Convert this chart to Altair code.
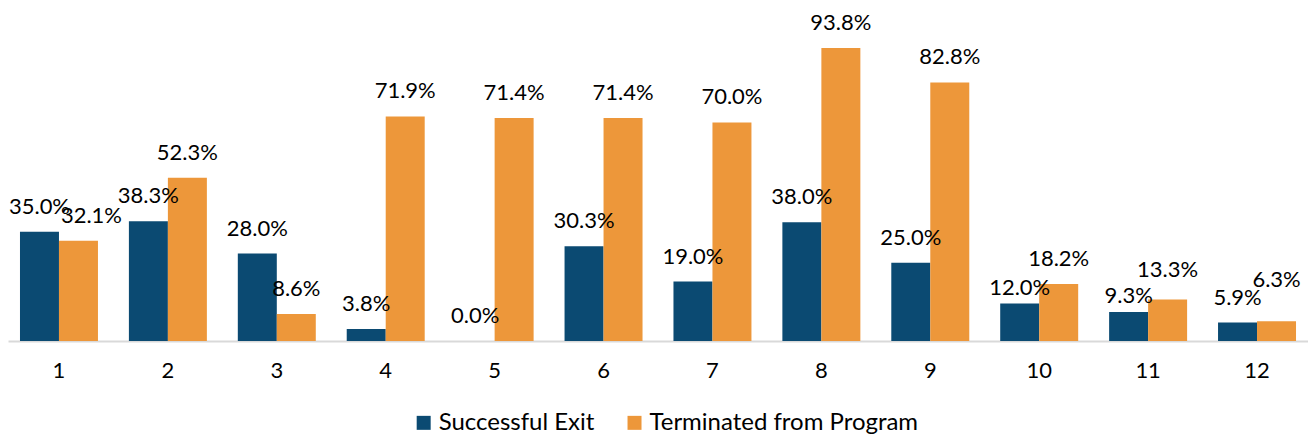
import altair as alt
import pandas as pd

categories = [str(i) for i in range(1, 13)]
successful_exit = [35.0, 38.3, 28.0, 3.8, 0.0, 30.3, 19.0, 38.0, 25.0, 12.0, 9.3, 5.9]
terminated = [32.1, 52.3, 8.6, 71.9, 71.4, 71.4, 70.0, 93.8, 82.8, 18.2, 13.3, 6.3]
series_names = ["Successful Exit", "Terminated from Program"]
colors = ["#0b4a72", "#ed973a"]

rows = []
for c, a, b in zip(categories, successful_exit, terminated):
    rows.append({"cat": c, "series": series_names[0], "value": a})
    rows.append({"cat": c, "series": series_names[1], "value": b})
df = pd.DataFrame(rows)

FONT = "Lato"
S0, S1 = series_names

x = alt.X("cat:N", sort=categories, title=None,
          scale=alt.Scale(paddingInner=0.284, paddingOuter=0.11),
          axis=alt.Axis(labelAngle=0, ticks=False, domainColor="#d9d9d9", domainWidth=2,
                        labelFont=FONT, labelFontSize=22, labelColor="#000000",
                        labelPadding=20, grid=False))
yscale = alt.Scale(domain=[0, 106.6], nice=False, zero=True)
xoff = alt.XOffset("series:N", sort=series_names, scale=alt.Scale(paddingInner=0, paddingOuter=0))
color = alt.Color("series:N", sort=series_names,
                  scale=alt.Scale(domain=series_names, range=colors),
                  legend=alt.Legend(title=None, orient="none", direction="horizontal",
                                    legendX=404, legendY=403,
                                    symbolType="square", symbolSize=196, symbolStrokeWidth=0,
                                    labelFont=FONT, labelFontSize=24, labelColor="#000000",
                                    labelOffset=3, columnPadding=28, labelLimit=400))

base = alt.Chart(df).encode(x=x, xOffset=xoff)

bars = base.mark_bar().encode(y=alt.Y("value:Q", title=None, scale=yscale, axis=None), color=color)

# label placement: avoid collisions between the two labels of a pair
lab = base.transform_calculate(
    bv=f"datum.series == '{S0}' ? datum.value : 0",
    ov=f"datum.series == '{S1}' ? datum.value : 0",
).transform_joinaggregate(
    b="max(bv)", o="max(ov)", groupby=["cat"]
).transform_calculate(
    label="format(datum.value, '.1f') + '%'",
    labelY=(f"datum.series == '{S1}' ? (datum.o >= datum.b ? max(datum.o, datum.b + 5.5) : datum.o)"
            f" : ((datum.o - datum.b > 2 && datum.o - datum.b < 7) ? datum.b - 2.9 : datum.b)"),
    sideShift=f"datum.series == '{S1}' && datum.b > datum.o && datum.b - datum.o < 5.5",
)

text_kw = dict(baseline="alphabetic", dy=-18, font=FONT, fontSize=22, color="#000000")
ylab = alt.Y("labelY:Q", scale=yscale, axis=None, title=None)

labels_main = lab.transform_filter("!datum.sideShift").mark_text(**text_kw).encode(y=ylab, text="label:N")
labels_shift = lab.transform_filter("datum.sideShift").mark_text(dx=13, **text_kw).encode(y=ylab, text="label:N")

chart = (bars + labels_main + labels_shift).properties(
    width=1301, height=333,
    padding={"left": 0, "top": 0, "right": 0, "bottom": 0},
).configure_view(stroke=None)

chart.save("out.html", embed_options={"renderer": "svg", "actions": False})
